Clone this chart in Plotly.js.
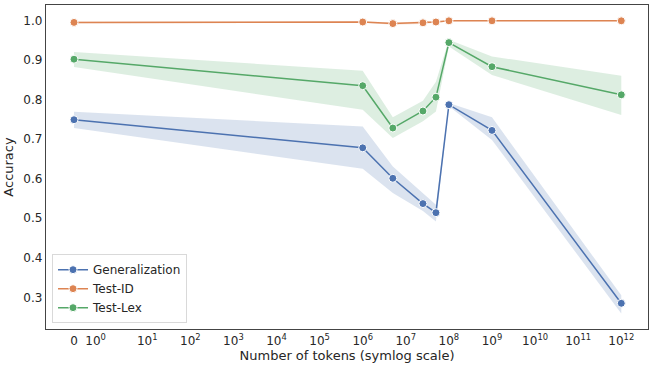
<!DOCTYPE html>
<html>
<head>
<meta charset="utf-8">
<script src="https://cdn.plot.ly/plotly-3.0.1.min.js"></script>
<style>
    html, body { margin: 0; padding: 0; background: #fff; }
    #plot { width: 654px; height: 368px; }
</style>
</head>
<body>
<div id="plot"></div>
<script>
// number of tokens per point
const tokens = [0, 1e6, 5e6, 2.5e7, 5e7, 1e8, 1e9, 1e12];

// mean accuracy
const generalization = [0.749, 0.678, 0.601, 0.537, 0.514, 0.787, 0.722, 0.285];
const testId = [0.995, 0.996, 0.992, 0.994, 0.996, 0.999, 0.999, 0.999];
const testLex = [0.902, 0.835, 0.728, 0.771, 0.806, 0.944, 0.883, 0.812];

// confidence bands (lower / upper)
const generalizationLow = [0.728, 0.625, 0.564, 0.518, 0.492, 0.783, 0.698, 0.259];
const generalizationHigh = [0.769, 0.732, 0.631, 0.562, 0.534, 0.791, 0.755, 0.305];
const testIdLow = [0.993, 0.994, 0.989, 0.991, 0.994, 0.998, 0.998, 0.998];
const testIdHigh = [0.997, 0.998, 0.995, 0.997, 0.998, 1.0, 1.0, 1.0];
const testLexLow = [0.882, 0.774, 0.703, 0.745, 0.770, 0.934, 0.862, 0.761];
const testLexHigh = [0.920, 0.873, 0.755, 0.797, 0.845, 0.951, 0.909, 0.860];

// x axis ticks
const tickTokens = [0, 1, 10, 1e2, 1e3, 1e4, 1e5, 1e6, 1e7, 1e8, 1e9, 1e10, 1e11, 1e12];
const tickLabels = ['0', '10<sup>0</sup>', '10<sup>1</sup>', '10<sup>2</sup>', '10<sup>3</sup>', '10<sup>4</sup>',
    '10<sup>5</sup>', '10<sup>6</sup>', '10<sup>7</sup>', '10<sup>8</sup>', '10<sup>9</sup>',
    '10<sup>10</sup>', '10<sup>11</sup>', '10<sup>12</sup>'];

// symlog like matplotlib (linthresh 2, linscale 1)
const LINTHRESH = 2;
function symlog(v) {
    if (Math.abs(v) <= LINTHRESH) return v / LINTHRESH;
    return Math.sign(v) * (1 + Math.log10(Math.abs(v) / LINTHRESH));
}

const xs = tokens.map(symlog);

const series = [
    {name: 'Generalization', y: generalization, lo: generalizationLow, hi: generalizationHigh, color: '#4C72B0', band: 'rgba(76,114,176,0.2)'},
    {name: 'Test-ID', y: testId, lo: testIdLow, hi: testIdHigh, color: '#DD8452', band: 'rgba(221,132,82,0.2)'},
    {name: 'Test-Lex', y: testLex, lo: testLexLow, hi: testLexHigh, color: '#55A868', band: 'rgba(85,168,104,0.2)'},
];

let traces = [];

series.forEach(s => {
    traces.push({
        x: xs.concat(xs.slice().reverse()),
        y: s.hi.concat(s.lo.slice().reverse()),
        type: 'scatter',
        mode: 'lines',
        fill: 'toself',
        fillcolor: s.band,
        line: {width: 0, color: 'rgba(0,0,0,0)'},
        hoverinfo: 'skip',
        showlegend: false,
    });
});

series.forEach(s => {
    traces.push({
        x: xs,
        y: s.y,
        name: s.name,
        type: 'scatter',
        mode: 'lines+markers',
        line: {color: s.color, width: 1.5},
        marker: {color: s.color, size: 8, line: {color: '#fff', width: 1}},
    });
});

let layout = {
    width: 654,
    height: 368,
    margin: {l: 46, r: 6, t: 5, b: 39},
    paper_bgcolor: '#fff',
    plot_bgcolor: '#fff',
    font: {family: 'DejaVu Sans, sans-serif', size: 12, color: '#262626'},
    showlegend: true,
    legend: {
        x: 0.01,
        y: 0.018,
        xanchor: 'left',
        yanchor: 'bottom',
        bgcolor: 'rgba(255,255,255,0.8)',
        bordercolor: '#d9d9d9',
        borderwidth: 1,
        font: {size: 12, color: '#262626'},
        tracegroupgap: 0,
    },
    xaxis: {
        range: [symlog(0) - 0.65, symlog(1e12) + 0.62],
        tickmode: 'array',
        tickvals: tickTokens.map(symlog),
        ticktext: tickLabels,
        showgrid: false,
        zeroline: false,
        showline: true,
        mirror: true,
        linecolor: '#444',
        linewidth: 1.25,
        ticks: '',
        tickfont: {size: 12},
        title: {text: 'Number of tokens (symlog scale)', font: {size: 13}, standoff: 4},
    },
    yaxis: {
        range: [0.22, 1.039],
        tickvals: [0.3, 0.4, 0.5, 0.6, 0.7, 0.8, 0.9, 1.0],
        tickformat: '.1f',
        showgrid: false,
        zeroline: false,
        showline: true,
        mirror: true,
        linecolor: '#444',
        linewidth: 1.25,
        ticks: '',
        tickfont: {size: 12},
        title: {text: 'Accuracy', font: {size: 13}, standoff: 6},
    },
};

Plotly.newPlot('plot', traces, layout, {displayModeBar: false, staticPlot: true});
</script>
</body>
</html>
